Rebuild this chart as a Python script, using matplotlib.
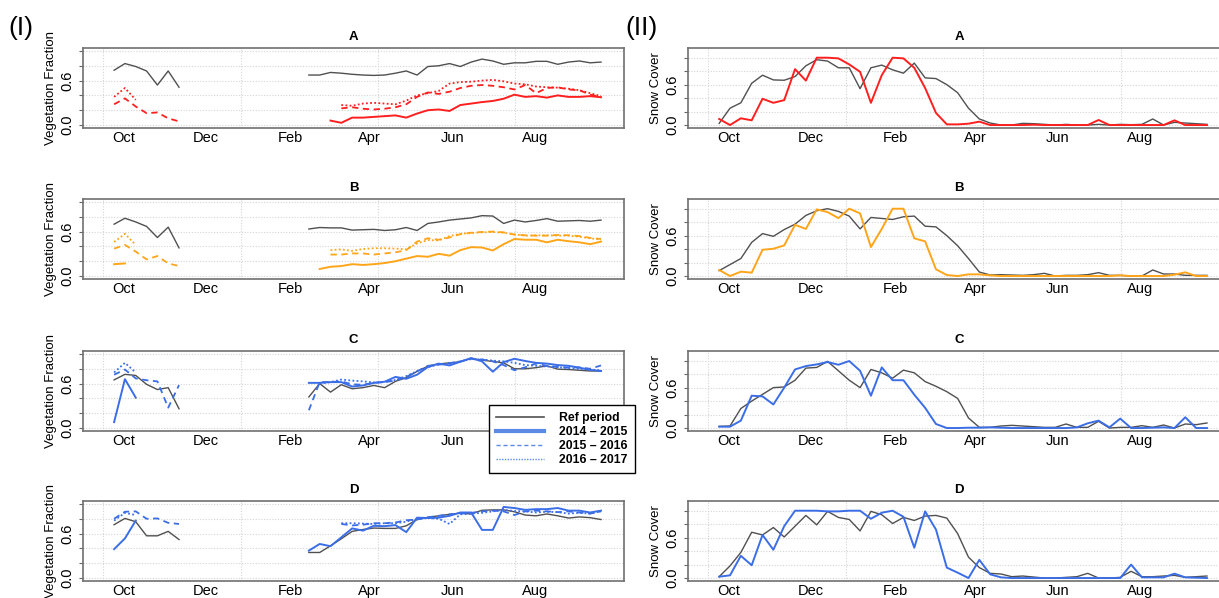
import numpy as np
import matplotlib.pyplot as plt
from matplotlib.lines import Line2D

plt.rcParams['font.family'] = ['Liberation Sans', 'DejaVu Sans']

N = None

# composite dates, days after 1 Sep
days = [23, 31, 39, 47, 55, 63, 71, 79, 87, 95, 103, 111, 119, 127, 135, 143,
        151, 159, 167, 175, 183, 191, 199, 207, 215, 223, 231, 239, 247, 255,
        263, 271, 279, 287, 295, 303, 311, 319, 327, 335, 343, 351, 359, 367,
        375, 383]
month_days = [30, 91, 153, 212, 273, 334]
month_labels = ['Oct', 'Dec', 'Feb', 'Apr', 'Jun', 'Aug']
grid_days = [15, 116.5, 218, 319.5]
panel_names = ['A', 'B', 'C', 'D']
legend_labels = ['Ref period', '2014 – 2015', '2015 – 2016', '2016 – 2017']

# vegetation fraction (I)
veg_a_ref = [0.74, 0.83, 0.79, 0.73, 0.54, 0.73, 0.51, N, N, N, N, N, N, N, N, N, N, N,
             0.675, 0.675, 0.71, 0.70, 0.685, 0.675, 0.67, 0.675, 0.70, 0.73, 0.675, 0.79, 0.80, 0.83,
             0.79, 0.85, 0.89, 0.865, 0.82, 0.84, 0.84, 0.86, 0.86, 0.82, 0.85, 0.865, 0.84, 0.85]
veg_a_1415 = [N, N, N, N, N, N, N, N, N, N, N, N, N, N, N, N, N, N, N, N,
              0.06, 0.03, 0.10, 0.10, 0.11, 0.12, 0.13, 0.10, 0.155, 0.20, 0.21, 0.19, 0.27,
              0.29, 0.31, 0.325, 0.355, 0.41, 0.38, 0.39, 0.37, 0.40, 0.38, 0.38, 0.39, 0.375]
veg_a_1516 = [0.28, 0.36, 0.25, 0.16, 0.17, 0.09, 0.05, N, N, N, N, N, N, N, N, N, N, N, N, N, N,
              0.225, 0.24, 0.22, 0.21, 0.22, 0.24, 0.28, 0.38, 0.44, 0.42, 0.45, 0.50, 0.53,
              0.54, 0.53, 0.51, 0.48, 0.54, 0.43, 0.50, 0.51, 0.48, 0.47, 0.41, 0.38]
veg_a_1617 = [0.38, 0.50, 0.34, N, N, N, N, N, N, N, N, N, N, N, N, N, N, N, N, N, N,
              0.27, 0.26, 0.29, 0.30, 0.29, 0.28, 0.33, 0.40, 0.43, 0.46, 0.56, 0.58, 0.585,
              0.60, 0.61, 0.59, 0.56, 0.55, 0.52, 0.51, 0.505, 0.49, 0.47, 0.43, 0.39]

veg_b_ref = [0.70, 0.78, 0.73, 0.67, 0.52, 0.66, 0.38, N, N, N, N, N, N, N, N, N, N, N,
             0.635, 0.655, 0.65, 0.65, 0.62, 0.625, 0.63, 0.615, 0.625, 0.655, 0.615, 0.71, 0.73,
             0.755, 0.77, 0.785, 0.815, 0.81, 0.71, 0.755, 0.73, 0.75, 0.775, 0.74, 0.745, 0.75,
             0.74, 0.755]
veg_b_1415 = [0.16, 0.17, N, N, N, N, N, N, N, N, N, N, N, N, N, N, N, N, N,
              0.095, 0.125, 0.135, 0.16, 0.15, 0.16, 0.175, 0.20, 0.235, 0.27, 0.26, 0.30, 0.275,
              0.35, 0.39, 0.385, 0.345, 0.43, 0.50, 0.49, 0.49, 0.455, 0.49, 0.47, 0.455, 0.43, 0.465]
veg_b_1516 = [0.37, 0.42, 0.33, 0.225, 0.27, 0.17, 0.135, N, N, N, N, N, N, N, N, N, N, N, N, N,
              0.29, 0.29, 0.305, 0.305, 0.29, 0.305, 0.32, 0.35, 0.465, 0.51, 0.49, 0.52, 0.565,
              0.585, 0.595, 0.60, 0.59, 0.56, 0.55, 0.545, 0.545, 0.555, 0.55, 0.54, 0.515, 0.50]
veg_b_1617 = [0.46, 0.57, 0.42, N, N, N, N, N, N, N, N, N, N, N, N, N, N, N, N, N,
              0.35, 0.36, 0.34, 0.365, 0.375, 0.375, 0.37, 0.36, 0.44, 0.485, 0.48, 0.54, 0.57,
              0.58, 0.59, 0.595, 0.585, 0.56, 0.545, 0.55, 0.55, 0.545, 0.545, 0.53, 0.51, 0.49]

veg_c_ref = [0.65, 0.725, 0.71, 0.59, 0.52, 0.545, 0.26, N, N, N, N, N, N, N, N, N, N, N,
             0.42, 0.60, 0.485, 0.585, 0.53, 0.545, 0.575, 0.545, 0.63, 0.68, 0.765, 0.835, 0.865,
             0.88, 0.895, 0.94, 0.915, 0.90, 0.88, 0.80, 0.80, 0.815, 0.84, 0.795, 0.79, 0.78,
             0.77, 0.77]
veg_c_1415 = [0.08, 0.66, 0.41, N, N, N, N, N, N, N, N, N, N, N, N, N, N, N,
              0.61, 0.61, 0.62, 0.62, 0.56, 0.575, 0.61, 0.625, 0.69, 0.665, 0.72, 0.825, 0.87,
              0.845, 0.895, 0.945, 0.90, 0.76, 0.89, 0.935, 0.905, 0.88, 0.87, 0.85, 0.84, 0.815,
              0.785, 0.77]
veg_c_1516 = [0.72, 0.79, 0.67, 0.645, 0.63, 0.275, 0.58, N, N, N, N, N, N, N, N, N, N, N,
              0.24, 0.62, 0.62, 0.63, 0.59, 0.585, 0.61, 0.62, 0.64, 0.69, 0.765, 0.84, 0.855,
              0.875, 0.90, 0.935, 0.925, 0.90, 0.85, 0.78, 0.82, 0.87, 0.84, 0.825, 0.815, 0.82,
              0.80, 0.845]
veg_c_1617 = [0.75, 0.88, 0.75, N, N, N, N, N, N, N, N, N, N, N, N, N, N, N, N,
              0.60, 0.62, 0.655, 0.64, 0.63, 0.615, 0.62, 0.65, 0.70, 0.77, 0.82, 0.86, 0.87,
              0.90, 0.93, 0.925, 0.91, 0.90, 0.88, 0.85, 0.84, 0.83, 0.82, 0.81, 0.80, 0.79, 0.78]

veg_d_ref = [0.72, 0.805, 0.76, 0.57, 0.57, 0.63, 0.52, N, N, N, N, N, N, N, N, N, N, N,
             0.345, 0.345, 0.435, 0.53, 0.63, 0.655, 0.675, 0.67, 0.67, 0.705, 0.79, 0.82, 0.84,
             0.86, 0.875, 0.865, 0.915, 0.92, 0.92, 0.895, 0.85, 0.84, 0.865, 0.84, 0.81, 0.825,
             0.815, 0.79]
veg_d_1415 = [0.39, 0.535, 0.775, N, N, N, N, N, N, N, N, N, N, N, N, N, N, N,
              0.37, 0.46, 0.43, 0.55, 0.67, 0.64, 0.705, 0.70, 0.715, 0.62, 0.815, 0.81, 0.815,
              0.84, 0.885, 0.885, 0.65, 0.65, 0.96, 0.945, 0.92, 0.93, 0.93, 0.945, 0.91, 0.91,
              0.885, 0.91]
veg_d_1516 = [0.80, 0.895, 0.90, 0.80, 0.805, 0.745, 0.73, N, N, N, N, N, N, N, N, N, N, N, N, N, N,
              0.73, 0.71, 0.72, 0.74, 0.74, 0.75, 0.78, 0.79, 0.82, 0.84, 0.86, 0.87, 0.88,
              0.90, 0.91, 0.90, 0.85, 0.90, 0.91, 0.90, 0.89, 0.90, 0.885, 0.87, 0.90]
veg_d_1617 = [0.775, 0.88, 0.85, N, N, N, N, N, N, N, N, N, N, N, N, N, N, N, N, N, N,
              0.74, 0.74, 0.735, 0.73, 0.74, 0.74, 0.76, 0.80, 0.81, 0.80, 0.73, 0.86, 0.87,
              0.88, 0.90, 0.92, 0.905, 0.90, 0.885, 0.895, 0.89, 0.87, 0.88, 0.87, 0.90]

# snow cover (II)
snow_a_ref = [0.025, 0.25, 0.33, 0.62, 0.74, 0.67, 0.665, 0.72, 0.88, 0.97, 0.95, 0.85, 0.85,
              0.54, 0.85, 0.89, 0.82, 0.77, 0.92, 0.70, 0.69, 0.60, 0.48, 0.25, 0.09, 0.03, 0.0,
              0.0, 0.025, 0.02, 0.01, 0.0, 0.01, 0.0, 0.0, 0.01, 0.0, 0.01, 0.005, 0.01, 0.09,
              0.0, 0.04, 0.03, 0.02, 0.01]
snow_a_1415 = [0.09, 0.0, 0.10, 0.07, 0.39, 0.33, 0.37, 0.83, 0.66, 1.0, 1.0, 0.99, 0.90, 0.79,
               0.33, 0.74, 1.0, 0.99, 0.85, 0.55, 0.18, 0.01, 0.01, 0.02, 0.05, 0.0, 0.0, 0.0,
               0.0, 0.005, 0.0, 0.0, 0.0, 0.0, 0.0, 0.075, 0.0, 0.0, 0.0, 0.0, 0.0, 0.0, 0.07,
               0.0, 0.0, 0.0]
snow_b_ref = [0.08, 0.17, 0.26, 0.50, 0.63, 0.59, 0.69, 0.77, 0.90, 0.97, 1.0, 0.96, 0.89, 0.70,
              0.87, 0.855, 0.84, 0.88, 0.89, 0.74, 0.73, 0.60, 0.45, 0.26, 0.06, 0.015, 0.02,
              0.015, 0.01, 0.02, 0.04, 0.0, 0.01, 0.01, 0.02, 0.05, 0.01, 0.01, 0.0, 0.0, 0.09,
              0.03, 0.03, 0.01, 0.01, 0.01]
snow_b_1415 = [0.09, 0.0, 0.065, 0.05, 0.39, 0.405, 0.455, 0.76, 0.70, 0.99, 0.95, 0.86, 1.0,
               0.93, 0.43, 0.70, 1.0, 1.0, 0.56, 0.515, 0.10, 0.015, 0.0, 0.025, 0.025, 0.01,
               0.0, 0.0, 0.0, 0.0, 0.0, 0.0, 0.0, 0.0, 0.0, 0.0, 0.0, 0.01, 0.0, 0.0, 0.0, 0.0,
               0.02, 0.055, 0.0, 0.0]
snow_c_ref = [0.025, 0.03, 0.29, 0.40, 0.50, 0.60, 0.61, 0.71, 0.89, 0.90, 0.99, 0.85, 0.71,
              0.60, 0.87, 0.82, 0.74, 0.86, 0.82, 0.69, 0.62, 0.54, 0.44, 0.15, 0.01, 0.01, 0.03,
              0.04, 0.03, 0.02, 0.01, 0.01, 0.06, 0.01, 0.01, 0.10, 0.0, 0.01, 0.01, 0.035,
              0.01, 0.045, 0.0, 0.06, 0.05, 0.075]
snow_c_1415 = [0.02, 0.02, 0.11, 0.48, 0.47, 0.35, 0.60, 0.87, 0.92, 0.945, 0.98, 0.94, 0.995,
               0.85, 0.48, 0.90, 0.71, 0.71, 0.495, 0.30, 0.06, 0.0, 0.0, 0.005, 0.005, 0.01,
               0.005, 0.0, 0.0, 0.0, 0.0, 0.0, 0.0, 0.01, 0.07, 0.11, 0.01, 0.14, 0.0, 0.0,
               0.005, 0.01, 0.0, 0.16, 0.0, 0.0]
snow_d_ref = [0.02, 0.18, 0.38, 0.68, 0.64, 0.75, 0.61, 0.77, 0.93, 0.79, 0.99, 0.90, 0.87,
              0.70, 0.99, 0.94, 0.81, 0.90, 0.855, 0.92, 0.93, 0.89, 0.66, 0.31, 0.155, 0.07,
              0.06, 0.02, 0.03, 0.015, 0.0, 0.0, 0.01, 0.02, 0.07, 0.0, 0.0, 0.01, 0.10, 0.02,
              0.02, 0.03, 0.04, 0.01, 0.02, 0.03]
snow_d_1415 = [0.02, 0.04, 0.33, 0.19, 0.64, 0.42, 0.77, 1.0, 1.0, 1.0, 0.99, 0.99, 1.0, 1.0,
               0.88, 0.97, 1.0, 0.91, 0.45, 0.99, 0.72, 0.155, 0.08, 0.0, 0.27, 0.055, 0.01,
               0.0, 0.0, 0.0, 0.0, 0.0, 0.0, 0.0, 0.0, 0.0, 0.0, 0.0, 0.20, 0.01, 0.01, 0.01,
               0.065, 0.01, 0.005, 0.0]

veg_rows = [(veg_a_ref, veg_a_1415, veg_a_1516, veg_a_1617),
            (veg_b_ref, veg_b_1415, veg_b_1516, veg_b_1617),
            (veg_c_ref, veg_c_1415, veg_c_1516, veg_c_1617),
            (veg_d_ref, veg_d_1415, veg_d_1516, veg_d_1617)]
snow_rows = [(snow_a_ref, snow_a_1415), (snow_b_ref, snow_b_1415),
             (snow_c_ref, snow_c_1415), (snow_d_ref, snow_d_1415)]

grey = '#505050'
blue = '#3b6ee6'
row_colors = ['#ff1f1f', '#ffa51a', blue, blue]
dashed = (0, (3.5, 2.5))
dotted = (0, (1, 1.3))

W, H = 1219, 598
fig = plt.figure(figsize=(W / 100, H / 100), dpi=100)


def style_axes(ax, ylabel, ylim, title):
    ax.set_xlim(0, 400)
    ax.set_ylim(*ylim)
    ax.set_yticks([0, 0.2, 0.4, 0.6, 0.8, 1.0])
    ax.set_yticklabels(['0.0', '', '', '0.6', '', ''], rotation=90, va='center')
    ax.set_xticks(month_days)
    ax.set_xticklabels(month_labels)
    ax.tick_params(axis='x', length=0, pad=2.5, labelsize=10.5)
    ax.tick_params(axis='y', length=3, width=0.8, color='#666666', pad=3, labelsize=10.5)
    for d in grid_days:
        ax.axvline(d, color='#d4d4d4', lw=0.8, ls=(0, (1, 1.5)), zorder=0)
    for v in [0, 0.2, 0.4, 0.6, 0.8, 1.0]:
        ax.axhline(v, color='#d4d4d4', lw=0.8, ls=(0, (1, 1.5)), zorder=0)
    for sp in ax.spines.values():
        sp.set_color('#707070')
        sp.set_linewidth(1.2)
    ax.set_ylabel(ylabel, fontsize=9.5, labelpad=2.5)
    ax.set_title(title, fontweight='bold', fontsize=9.5, pad=6)


bottoms = [1 - 128 / H, 1 - 279 / H, 1 - 431 / H, 1 - 581 / H]
for i, name in enumerate(panel_names):
    col = row_colors[i]
    axl = fig.add_axes([83 / W, bottoms[i], 541 / W, 80 / H])
    style_axes(axl, 'Vegetation Fraction', (-0.04, 1.04), name)
    ref, y1, y2, y3 = [np.array(s, dtype=float) for s in veg_rows[i]]
    axl.plot(days, ref, color=grey, lw=1.0)
    axl.plot(days, y1, color=col, lw=1.4)
    axl.plot(days, y2, color=col, lw=1.3, ls=dashed)
    axl.plot(days, y3, color=col, lw=1.3, ls=dotted)

    axr = fig.add_axes([688 / W, bottoms[i], 542 / W, 80 / H])
    style_axes(axr, 'Snow Cover', (-0.044, 1.144), name)
    sref, s1 = [np.array(s, dtype=float) for s in snow_rows[i]]
    axr.plot(days, sref, color=grey, lw=1.0)
    axr.plot(days, s1, color=col, lw=1.4)

fig.text(8 / W, 1 - 28 / H, '(I)', fontsize=19, va='center')
fig.text(625 / W, 1 - 28 / H, '(II)', fontsize=19, va='center')

handles = [Line2D([], [], color=grey, lw=1.2),
           Line2D([], [], color='#5a8ae6', lw=3),
           Line2D([], [], color='#5a8ae6', lw=1, ls=(0, (3, 2))),
           Line2D([], [], color='#5a8ae6', lw=1, ls=(0, (1, 1)))]
leg = fig.legend(handles, legend_labels, loc='upper left',
                 bbox_to_anchor=(489 / W, 1 - 405 / H), borderaxespad=0,
                 prop={'weight': 'bold', 'size': 8.8}, handlelength=3.9,
                 handletextpad=1.2, labelspacing=0.15, borderpad=0.6,
                 fancybox=False, framealpha=1, edgecolor='black')
leg.get_frame().set_linewidth(1.0)

fig.savefig('out.png', dpi=100)
